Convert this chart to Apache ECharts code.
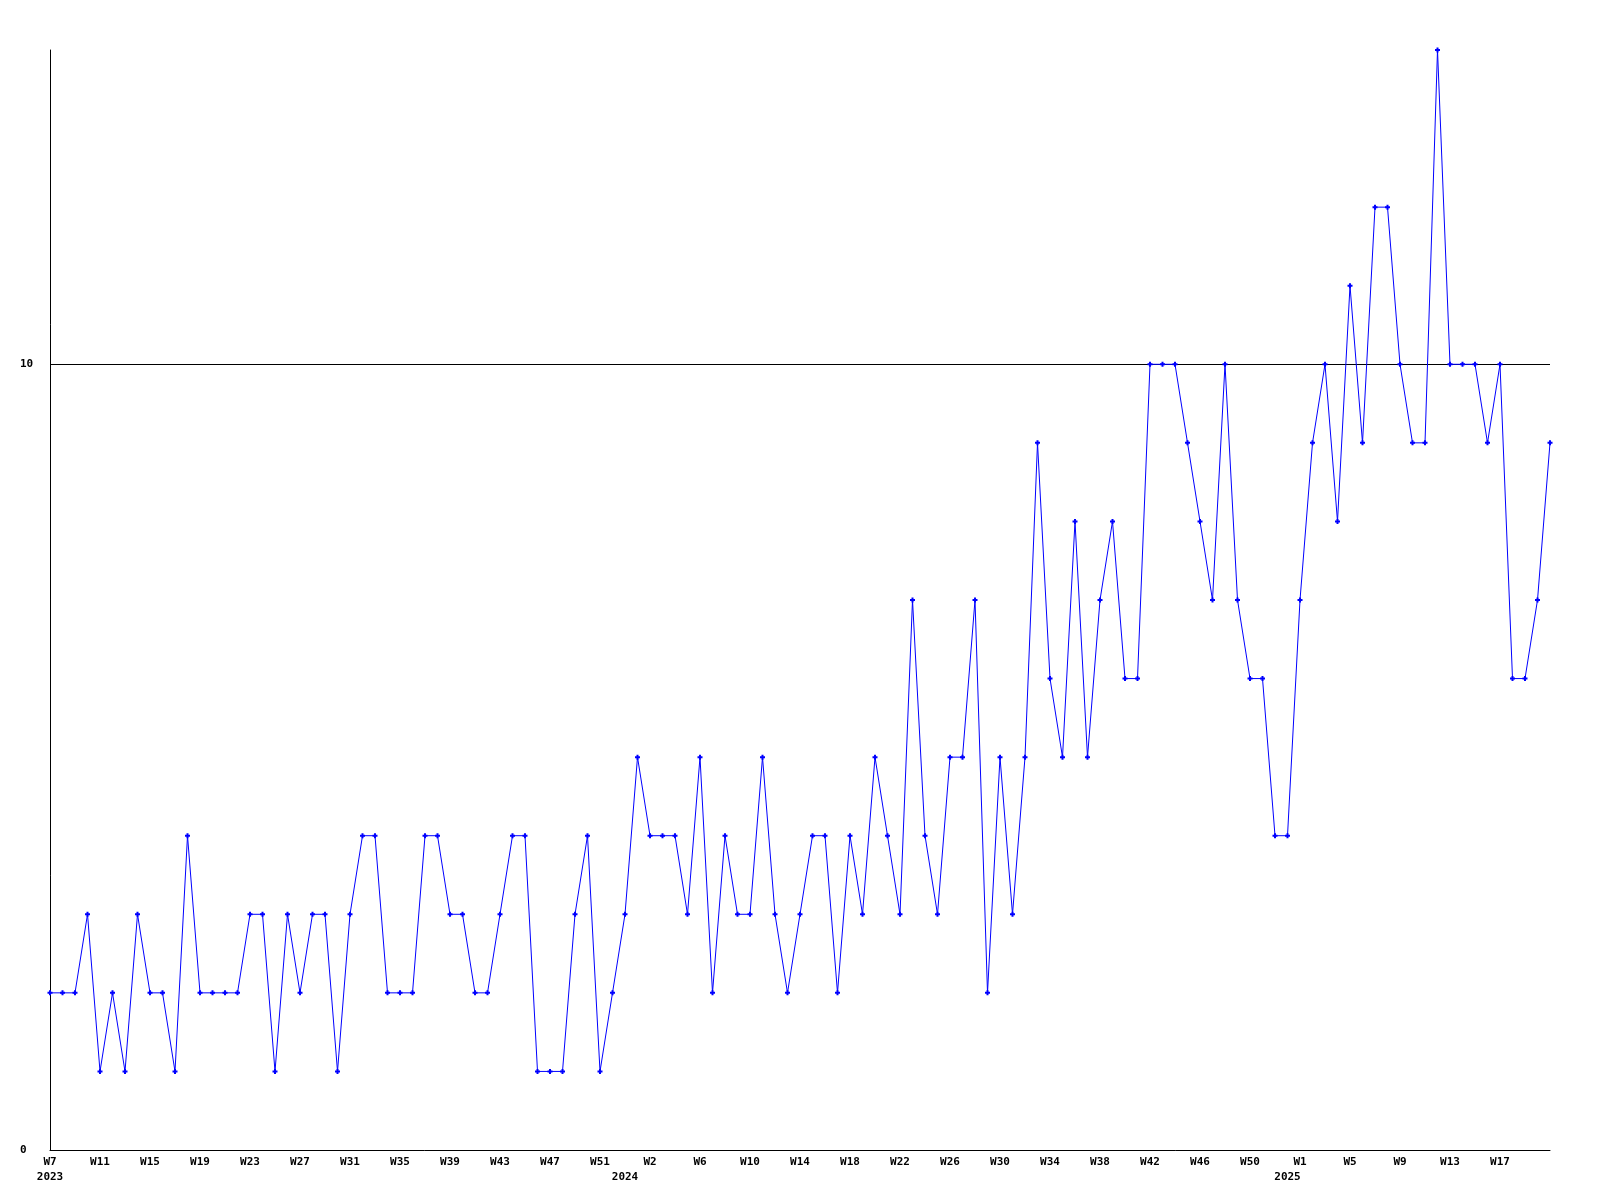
<!DOCTYPE html>
<html>
<head>
<meta charset="utf-8">
<script src="https://cdn.jsdelivr.net/npm/echarts@6/dist/echarts.min.js"></script>
<style>
html,body{margin:0;padding:0;background:#fff;}
#chart{width:1600px;height:1200px;}
</style>
</head>
<body>
<div id="chart"></div>
<script>
// Weekly categories: year + week label
var weeks2023 = [7,8,9,10,11,12,13,14,15,16,17,18,19,20,21,22,23,24,25,26,27,28,29,30,31,32,33,34,35,36,37,38,39,40,41,42,43,44,45,46,47,48,49,50,51,52,53];
var weeks2024 = [1,2,3,4,5,6,7,8,9,10,11,12,13,14,15,16,17,18,19,20,21,22,23,24,25,26,27,28,29,30,31,32,33,34,35,36,37,38,39,40,41,42,43,44,45,46,47,48,49,50,51,52,53];
var weeks2025 = [1,2,3,4,5,6,7,8,9,10,11,12,13,14,15,16,17,18,19,20,21];

// Values
var values2023 = [2,2,2,3,1,2,1,3,2,2,1,4,2,2,2,2,3,3,1,3,2,3,3,1,3,4,4,2,2,2,4,4,3,3,2,2,3,4,4,1,1,1,3,4,1,2,3];
var values2024 = [5,4,4,4,3,5,2,4,3,3,5,3,2,3,4,4,2,4,3,5,4,3,7,4,3,5,5,7,2,5,3,5,9,6,5,8,5,7,8,6,6,10,10,10,9,8,7,10,7,6,6,4,4];
var values2025 = [7,9,10,8,11,9,12,12,10,9,9,14,10,10,10,9,10,6,6,7,9];

// Year labels shown under the week labels (category index where each year label sits)
var yearLabelIndex = {0: '2023', 46: '2024', 99: '2025'};

var categories = [];
var values = [];
function addYear(year, weeks, vals) {
  for (var i = 0; i < weeks.length; i++) {
    categories.push(year + '-W' + weeks[i]);
    values.push(vals[i]);
  }
}
addYear(2023, weeks2023, values2023);
addYear(2024, weeks2024, values2024);
addYear(2025, weeks2025, values2025);

var lastIndex = categories.length - 1;
var font = 'DejaVu Sans Mono';
var chart = echarts.init(document.getElementById('chart'), null, {renderer: 'canvas'});
chart.setOption({
  animation: false,
  backgroundColor: '#ffffff',
  grid: {left: 50, right: 50, top: 50, bottom: 50, containLabel: false},
  xAxis: [{
    type: 'category',
    data: categories,
    boundaryGap: false,
    position: 'bottom',
    axisLine: {show: true, onZero: false, lineStyle: {color: '#000', width: 1}},
    axisTick: {show: false},
    splitLine: {show: false},
    axisLabel: {
      interval: function (idx) { return idx % 4 === 0 && idx < lastIndex; },
      margin: 7,
      color: '#000',
      fontFamily: font,
      fontWeight: 'bold',
      fontSize: 11,
      formatter: function (v) { return v.split('-')[1]; }
    }
  }, {
    type: 'category',
    data: categories,
    boundaryGap: false,
    position: 'bottom',
    offset: 15,
    axisLine: {show: false},
    axisTick: {show: false},
    splitLine: {show: false},
    axisLabel: {
      interval: function (idx) { return yearLabelIndex.hasOwnProperty(idx); },
      margin: 7,
      color: '#000',
      fontFamily: font,
      fontWeight: 'bold',
      fontSize: 11,
      formatter: function (v, idx) { return yearLabelIndex[idx] || ''; }
    }
  }],
  yAxis: {
    type: 'value',
    min: 0,
    max: 14,
    interval: 10,
    axisLine: {show: true, lineStyle: {color: '#000', width: 1}},
    axisTick: {show: false},
    splitLine: {show: false},
    axisLabel: {
      align: 'left',
      margin: 30,
      color: '#000',
      fontFamily: font,
      fontWeight: 'bold',
      fontSize: 11,
      showMaxLabel: false,
      formatter: function (v) { return v === 14 ? '' : String(v); }
    }
  },
  series: [{
    type: 'line',
    data: values,
    xAxisIndex: 0,
    showAllSymbol: true,
    symbol: 'path://M1.5,0H3.5V1.5H5V3.5H3.5V5H1.5V3.5H0V1.5H1.5Z',
    symbolSize: 5,
    itemStyle: {color: '#0000ff'},
    lineStyle: {color: '#0000ff', width: 1},
    markLine: {
      silent: true,
      symbol: 'none',
      label: {show: false},
      lineStyle: {color: '#000', width: 1, type: 'solid'},
      data: [{yAxis: 10}],
      z: 1
    },
    z: 3
  }]
});
</script>
</body>
</html>
